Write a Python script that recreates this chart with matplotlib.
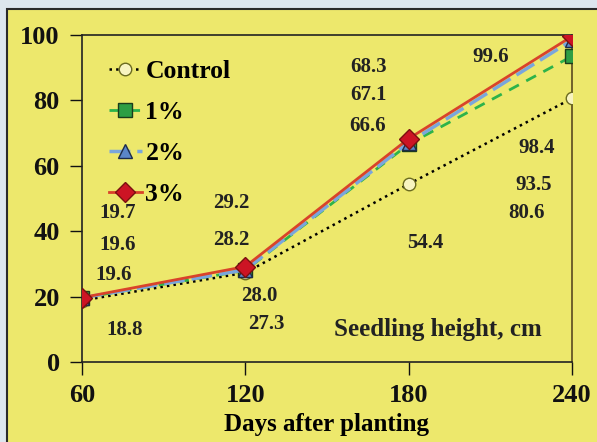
import matplotlib.pyplot as plt
import matplotlib.patches as mpatches

# Seedling height (cm) by days after planting
days = [60, 120, 180, 240]
control = [18.8, 27.3, 54.4, 80.6]
pct1 = [19.6, 28.0, 66.6, 93.5]
pct2 = [19.6, 28.2, 67.1, 98.4]
pct3 = [19.7, 29.2, 68.3, 99.6]

# value labels as they sit on the chart
label_text = ['19.7', '19.6', '19.6', '18.8',
              '29.2', '28.2', '28.0', '27.3',
              '68.3', '67.1', '66.6', '54.4',
              '99.6', '98.4', '93.5', '80.6']
label_x = [73, 73, 71.5, 75.5,
           115, 115, 125, 127.7,
           165.3, 165.3, 165, 186,
           210, 227, 226, 223.4]
label_y = [45.6, 35.8, 26.6, 9.8,
           48.6, 37.3, 20.2, 11.6,
           90.2, 81.7, 72.2, 36.4,
           93.3, 65.4, 54.1, 45.6]

yellow = '#ede86c'
plt.rcParams['font.family'] = 'Liberation Serif'
plt.rcParams['font.weight'] = 'bold'

fig = plt.figure(figsize=(5.97, 4.42), dpi=100)
fig.patch.set_facecolor('#dde6ee')
# yellow panel with dark border on top/left
fig.patches.append(mpatches.Rectangle((7 / 597, -0.01), 1, 1.01 - 9 / 442, transform=fig.transFigure,
                                      facecolor=yellow, edgecolor='#2a2a2a', linewidth=1.5,
                                      zorder=-10))

ax = fig.add_axes([82 / 597, 1 - 362 / 442, 490 / 597, 327 / 442])
ax.set_facecolor(yellow)

ax.plot(days, control, linestyle=':', color='black', linewidth=1.8, marker='o', markersize=9,
        markerfacecolor='#f8f4c0', markeredgecolor='#6b6b20', label='Control', zorder=3)
ax.plot(days, pct1, linestyle=(0, (4, 3)), color='#2db34a', linewidth=2, marker='s', markersize=10,
        markerfacecolor='#2e9e44', markeredgecolor='#1b3b1b', label='1%', zorder=3)
ax.plot(days, pct2, linestyle=(0, (6, 2)), color='#7aa6dc', linewidth=2.5, marker='^', markersize=10,
        markerfacecolor='#5b86c8', markeredgecolor='#1d2b4a', label='2%', zorder=3)
ax.plot(days, pct3, linestyle='-', color='#d9432a', linewidth=2, marker='D', markersize=10,
        markerfacecolor='#cc1424', markeredgecolor='#7a1010', label='3%', zorder=4)

for t, x, y in zip(label_text, label_x, label_y):
    ax.text(x, y, t, ha='center', va='center', fontsize=15, fontweight='bold', color='#222222')

ax.text(190.7, 9.8, 'Seedling height, cm', ha='center', va='center', fontsize=18,
        fontweight='bold', color='#222222')

ax.set_xlim(60, 240)
ax.set_ylim(0, 100)
ax.set_xticks(days)
ax.set_yticks([0, 20, 40, 60, 80, 100])
ax.tick_params(direction='out', length=9, width=1, labelsize=19, colors='#111111')
ax.tick_params(axis='x', pad=7)
ax.tick_params(axis='y', pad=7)
for lab in ax.get_xticklabels() + ax.get_yticklabels():
    lab.set_fontweight('bold')
for s in ax.spines.values():
    s.set_color('#222222')
    s.set_linewidth(1.2)
ax.spines['right'].set_color('#5a4a20')
ax.set_xlabel('Days after planting', fontsize=18, fontweight='bold', labelpad=4)

leg = ax.legend(loc='upper left', bbox_to_anchor=(0.035, 0.955), frameon=False, fontsize=18.5,
                handlelength=1.25, handletextpad=0.15, labelspacing=0.7, borderaxespad=0)
for t in leg.get_texts():
    t.set_fontweight('bold')

fig.savefig('out.png', dpi=100, facecolor=fig.get_facecolor())
